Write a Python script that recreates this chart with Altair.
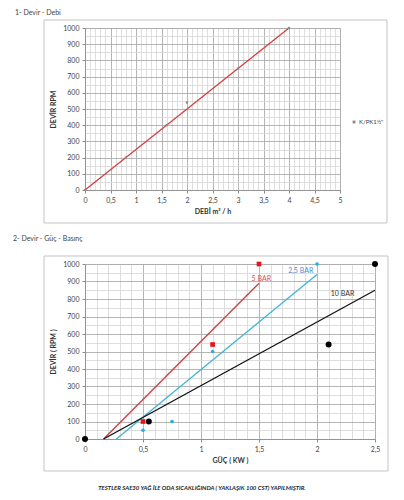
import altair as alt
import pandas as pd

FONT = "Lato"

# ---------- data: chart 1 (Devir - Debi) ----------
debi_pts_x = [0, 0.8, 1.6, 2.0, 3.0, 4.0]
debi_pts_y = [0, 200, 400, 540, 750, 1000]
debi_series = 'K/PK1½"'
debi_line_x = [0, 4]
debi_line_y = [0, 1000]
top_x_ticks = [round(i * 0.1, 1) for i in range(0, 51)]
top_y_ticks = [i * 50 for i in range(0, 21)]

# ---------- data: chart 2 (Devir - Güç - Basınç) ----------
bar_series = ["5 BAR", "2,5 BAR", "10 BAR"]
line_colors = ["#d43c40", "#3fb4d8", "#111111"]
point_colors = ["#e8141c", "#1cb0ec", "#000000"]
point_shapes = ["square", "circle", "circle"]
point_sizes = [22, 13, 36]
pts_5_x = [0.5, 1.1, 1.5]
pts_5_y = [100, 540, 1000]
pts_25_x = [0.5, 0.75, 1.1, 2.0]
pts_25_y = [50, 100, 500, 1000]
pts_10_x = [0, 0.55, 2.1, 2.5]
pts_10_y = [0, 100, 540, 1000]
line_5_x = [0.16, 1.5]
line_5_y = [0, 890]
line_25_x = [0.27, 2.0]
line_25_y = [0, 940]
line_10_x = [0.16, 2.5]
line_10_y = [0, 850]
lbl_text = ["5 BAR", "2,5 BAR", "10 BAR"]
lbl_x = [1.52, 1.86, 2.22]
lbl_y = [915, 958, 830]
lbl_colors = ["#d9534f", "#4f8fc9", "#333333"]
bot_x_ticks = [round(i * 0.1, 1) for i in range(0, 26)]
bot_y_ticks = [i * 50 for i in range(0, 21)]

MAJOR_GRID = "#a3a3a3"
MINOR_GRID = "#d6d6d6"


def make_axis(values, major_test, title, title_pad, orient):
    label_expr = f"({major_test}) ? replace(format(datum.value, '~g'), '.', ',') : ''"
    return alt.Axis(
        values=values,
        tickCount=500,
        title=title,
        titleFont=FONT,
        titleFontSize=7,
        titleFontWeight="bold",
        titleColor="#333333",
        titlePadding=title_pad,
        labelFont=FONT,
        labelFontSize=7,
        labelColor="#444444",
        labelExpr=label_expr,
        labelOverlap=False,
        labelFlush=False,
        labelPadding=3,
        grid=True,
        gridColor={"condition": {"test": major_test, "value": MAJOR_GRID}, "value": MINOR_GRID},
        gridWidth=0.8,
        ticks=True,
        tickSize=3,
        tickColor={"condition": {"test": major_test, "value": "#8c8c8c"}, "value": "transparent"},
        domainColor="#8c8c8c",
        domainWidth=0.8,
        orient=orient,
    )


def frame_and_title(x0, x1, y0, y1, title, tx, ty):
    one = alt.Data(values=[{"k": 1}])
    frame = alt.Chart(one).mark_rect(
        fill="transparent", stroke="#c4c4c4", strokeWidth=1
    ).encode(
        x=alt.value(x0), x2=alt.value(x1), y=alt.value(y0), y2=alt.value(y1)
    )
    ttl = alt.Chart(one).mark_text(
        align="left", baseline="middle", font=FONT, fontSize=7, color="#444444"
    ).encode(x=alt.value(tx), y=alt.value(ty), text=alt.value(title))
    return frame, ttl


# ---------- chart 1 ----------
W1, H1 = 255, 162
x_major_1 = "abs(datum.value*2 - round(datum.value*2)) < 0.001"
y_major = "abs(datum.value/100 - round(datum.value/100)) < 0.001"

xs1 = alt.Scale(domain=[0, 5], nice=False, zero=False)
ys1 = alt.Scale(domain=[0, 1000], nice=False)

df_top_pts = pd.DataFrame({"x": debi_pts_x, "y": debi_pts_y, "s": [debi_series] * len(debi_pts_x)})
df_top_line = pd.DataFrame({"x": debi_line_x, "y": debi_line_y})

top_line = alt.Chart(df_top_line).mark_line(color="#d43f3f", strokeWidth=1.3).encode(
    x=alt.X("x:Q", scale=xs1, axis=make_axis(top_x_ticks, x_major_1, "DEBİ m³ / h", 4, "bottom")),
    y=alt.Y("y:Q", scale=ys1, axis=make_axis(top_y_ticks, y_major, "DEVİR RPM", 6, "left")),
)
top_pts = alt.Chart(df_top_pts).mark_point(filled=True, shape="square", size=5, opacity=1).encode(
    x="x:Q",
    y="y:Q",
    color=alt.Color(
        "s:N",
        scale=alt.Scale(domain=[debi_series], range=["#8a8a8a"]),
        legend=alt.Legend(
            orient="none", legendX=266, legendY=91, title=None,
            labelFont=FONT, labelFontSize=6, labelColor="#444444", labelOffset=2,
            symbolType="square", symbolSize=8, symbolStrokeWidth=0,
        ),
    ),
)
f1, t1 = frame_and_title(-41, 302, -8, 195, "1- Devir - Debi", -70, -15)
chart1 = alt.layer(f1, t1, top_line, top_pts).properties(width=W1, height=H1)

# ---------- chart 2 ----------
W2, H2 = 290, 175
xs2 = alt.Scale(domain=[0, 2.5], nice=False, zero=False)
ys2 = alt.Scale(domain=[0, 1000], nice=False)

line_rows = []
for s, xs_, ys_ in zip(bar_series, [line_5_x, line_25_x, line_10_x], [line_5_y, line_25_y, line_10_y]):
    for a, b in zip(xs_, ys_):
        line_rows.append({"x": a, "y": b, "s": s})
df_lines = pd.DataFrame(line_rows)

df_lbl = pd.DataFrame({"x": lbl_x, "y": lbl_y, "t": lbl_text, "c": lbl_colors})

bot_lines = alt.Chart(df_lines).mark_line(strokeWidth=1.3).encode(
    x=alt.X("x:Q", scale=xs2, axis=make_axis(bot_x_ticks, x_major_1, "GÜÇ ( KW )", 4, "bottom")),
    y=alt.Y("y:Q", scale=ys2, axis=make_axis(bot_y_ticks, y_major, "DEVİR ( RPM )", 6, "left")),
    color=alt.Color("s:N", scale=alt.Scale(domain=bar_series, range=line_colors), legend=None),
    detail="s:N",
)

point_layers = []
for xs_, ys_, col, shp, sz in zip(
    [pts_5_x, pts_25_x, pts_10_x], [pts_5_y, pts_25_y, pts_10_y], point_colors, point_shapes, point_sizes
):
    dfp = pd.DataFrame({"x": xs_, "y": ys_})
    point_layers.append(
        alt.Chart(dfp).mark_point(filled=True, opacity=1, color=col, shape=shp, size=sz, strokeWidth=0).encode(
            x="x:Q", y="y:Q"
        )
    )

bot_lbl = alt.Chart(df_lbl).mark_text(font=FONT, fontSize=7, align="center", baseline="middle").encode(
    x="x:Q", y="y:Q", text="t:N", color=alt.Color("c:N", scale=None),
)
foot = alt.Chart(alt.Data(values=[{"k": 1}])).mark_text(
    font=FONT, fontSize=6, fontWeight="bold", fontStyle="italic", color="#222222", align="center", baseline="middle"
).encode(
    x=alt.value(117), y=alt.value(224),
    text=alt.value("TESTLER SAE30 YAĞ İLE ODA SICAKLIĞINDA ( YAKLAŞIK 100 CST) YAPILMIŞTIR."),
)
f2, t2 = frame_and_title(-41, 303, -8, 207, "2- Devir - Güç - Basınç", -72, -25)
chart2 = alt.layer(f2, t2, bot_lines, *point_layers, bot_lbl, foot).properties(width=W2, height=H2)

chart = alt.vconcat(chart1, chart2, spacing=10).resolve_scale(
    color="independent"
).properties(
    padding={"left": 4, "top": 0, "right": 0, "bottom": 0}
).configure_view(stroke=None).configure(background="white")

chart.save("out.html", embed_options={"renderer": "svg", "actions": False})
